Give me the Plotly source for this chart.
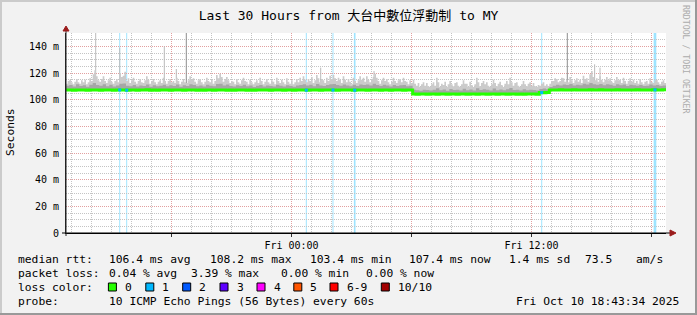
import plotly.graph_objects as go
import pandas as pd

# ---------------- data ----------------
START = "2025-10-09 12:43:34"
END = "2025-10-10 18:43:34"
BIN_MINUTES = 10        # median / dense-smoke resolution
FINE_MINUTES = 5        # max-ping resolution

median_ms = [
    107.2, 107.3, 107.1, 107.2, 107.3, 107.2, 107.0, 107.2, 107.3, 107.2,
    107.1, 107.3, 107.2, 107.2, 107.0, 107.2, 107.3, 107.2, 107.1, 107.2,
    107.3, 107.1, 107.2, 107.2, 107.4, 107.1, 107.2, 107.0, 107.2, 107.3,
    107.2, 107.1, 107.2, 107.3, 107.2, 107.1, 107.2, 107.3, 107.2, 107.1,
    107.2, 107.0, 107.2, 107.3, 107.1, 107.2, 107.3, 107.2, 107.1, 107.2,
    107.1, 107.2, 107.3, 107.2, 107.0, 107.2, 107.1, 107.2, 107.3, 107.2,
    107.2, 107.1, 107.2, 107.3, 107.2, 107.1, 107.2, 107.2, 107.0, 107.2,
    107.3, 107.2, 107.1, 107.2, 107.2, 107.3, 107.1, 107.2, 107.2, 107.3,
    107.2, 107.1, 107.2, 107.3, 107.2, 107.2, 107.1, 107.2, 107.3, 107.2,
    107.1, 107.2, 107.3, 107.2, 107.1, 107.2, 107.2, 107.0, 107.2, 107.3,
    107.2, 107.1, 107.2, 107.3, 104.2, 104.1, 104.2, 104.3, 104.1, 104.2,
    104.2, 104.0, 104.2, 104.3, 104.1, 104.2, 104.2, 104.1, 104.3, 104.2,
    104.1, 104.2, 104.2, 104.0, 104.2, 104.3, 104.1, 104.2, 104.2, 104.1,
    104.2, 104.3, 104.1, 104.2, 104.2, 104.0, 104.2, 104.1, 104.2, 104.3,
    104.2, 104.1, 105.3, 105.2, 105.4, 107.3, 107.2, 107.3, 107.4, 107.3,
    107.2, 107.3, 107.4, 107.3, 107.2, 107.3, 107.3, 107.4, 107.2, 107.3,
    107.4, 107.3, 107.2, 107.3, 107.3, 107.4, 107.2, 107.3, 107.3, 107.2,
    107.3, 107.4, 107.3, 107.2, 107.3, 107.3, 107.4, 107.3, 107.2, 107.4,
]

smoke_mid_ms = [
    110.5, 111, 109.8, 111.5, 110.2, 110.8, 109.6, 111.2, 112.5, 111,
    110.4, 111.6, 110, 111.2, 109.8, 110.6, 112, 112.2, 110.5, 110,
    111, 109.8, 110.6, 110.2, 111.4, 109.7, 110.8, 110, 110.5, 111.2,
    110, 110.8, 110.3, 111.3, 109.6, 110.9, 110.2, 111.5, 111, 110.1,
    110.7, 109.9, 111.2, 110.5, 110, 111.8, 112, 110.6, 111.3, 110.2,
    109.8, 110.9, 110.3, 111.1, 110, 110.6, 109.5, 110.4, 111, 109.9,
    110.6, 110.2, 109.8, 111.2, 110.5, 109.9, 110.8, 110.3, 109.6, 110.7,
    111, 111.5, 110.6, 111.2, 110.1, 111.8, 110.6, 110.2, 111, 111.6,
    111.8, 111, 110.4, 111.4, 110.7, 110, 111.1, 110.3, 111.3, 111,
    111.4, 110.6, 112, 111, 110.2, 111.2, 110.6, 109.9, 111, 110.3,
    110.8, 111, 110, 110.4, 107.5, 107, 106.6, 107.4, 107.2, 106.8,
    107.5, 108.6, 107, 107.6, 106.7, 108, 107.2, 107.5, 106.9, 108.2,
    107.1, 107.7, 106.8, 108.6, 107.2, 107.9, 107.4, 106.9, 108.3, 107.1,
    107.6, 107, 107.9, 108.7, 107.2, 107.5, 106.8, 107.9, 107, 107.4,
    107.2, 106.8, 108, 108.3, 107.9, 109.5, 110.5, 111.2, 110.6, 111.4,
    111, 111.8, 110.6, 111.2, 110.8, 112, 111.3, 112.5, 111.6, 111.2,
    111.8, 110.8, 111.6, 111.2, 110.5, 111.6, 110.9, 111.4, 110.3, 111.1,
    110.8, 110.4, 111, 110.2, 110.5, 111.3, 110.7, 111, 110.2, 110.6,
]

smoke_hi_ms = [
    112, 114, 115, 113, 111.5, 113.5, 115.5, 113, 112, 114.5, 113, 115, 111.5, 113, 116, 114, 119, 122, 117.5, 114.5,
    113.5, 115.5, 117.5, 114, 112.5, 114.5, 116.5, 113.5, 112, 114, 115.5, 113, 120, 117, 118, 121, 114, 116, 112.5, 114.5,
    116.5, 113.5, 112, 114, 115.5, 113, 112.5, 114.5, 117.5, 115, 112, 114, 115.5, 113, 111.5, 113.5, 114.5, 112.5, 116.5, 114,
    112, 114, 115.5, 113, 114, 112.5, 116.5, 114, 111.5, 113.5, 115.5, 113, 112.5, 114.5, 117.5, 115, 116, 113.5, 112, 114.5,
    115.5, 113, 111.5, 113.5, 116.5, 114, 113, 115, 112, 114, 118.5, 116, 119.5, 117, 113.5, 115.5, 117, 114.5, 112.5, 114,
    113.5, 111.5, 115.5, 113, 112, 114.5, 116.5, 114, 113.5, 111.5, 115, 113, 111.5, 113, 114.5, 112.5, 116.5, 114, 111.5, 113.5,
    115.5, 113, 112, 114.5, 113.5, 111.5, 116.5, 114, 112.5, 115, 113, 111.5, 116, 113.5, 112, 114.5, 111.5, 113, 115.5, 113,
    116.5, 114, 117.5, 115, 113, 115.5, 114, 117, 112.5, 114.5, 118.5, 116, 113, 115.5, 114.5, 112.5, 116.5, 114, 118, 115.5,
    118.5, 116, 114, 116.5, 115, 112.5, 117.5, 115, 113, 115.5, 113.5, 111.5, 116.5, 114, 112.5, 114.5, 117.5, 115, 116.5, 113.5,
    117.5, 115, 113, 115.5, 117, 119.5, 116.5, 114, 112, 114.5, 116.5, 114, 115.5, 113, 111.5, 113.5, 116.5, 114, 112.5, 114.5,
    115.5, 113, 116.5, 114, 113.5, 111.5, 114.5, 112.5, 115, 112, 110.5, 112.5, 109.5, 111.5, 113, 110.5, 112.5, 110, 109.5, 111.5,
    113, 110.5, 116.5, 113, 109.5, 112, 111, 113.5, 109.5, 111.5, 114, 111.5, 110, 112.5, 113, 110.5, 109.5, 111.5, 114.5, 112,
    112, 109.5, 113.5, 111, 109.5, 111.5, 116.5, 113, 110, 112.5, 114, 111.5, 113, 110.5, 109.5, 111.5, 115, 112.5, 110, 112,
    113.5, 111, 109.5, 112, 114, 111.5, 116.5, 113, 110.5, 112.5, 113, 110.5, 109.5, 111.5, 114, 111.5, 110, 112, 113, 110.5,
    112.5, 110, 109.5, 111, 110.5, 112, 113, 110.5, 111.5, 110, 112, 114, 114, 116, 115.5, 113, 114, 116.5, 116, 113.5,
    115, 113, 117, 114.5, 112.5, 114.5, 116, 113.5, 115, 112.5, 118, 115.5, 116, 113.5, 119, 121.5, 117, 114.5, 116, 113.5,
    117.5, 115, 113, 115, 117, 114.5, 116, 113.5, 112.5, 114.5, 117, 114.5, 115, 112.5, 116.5, 114, 112, 114, 116, 113.5,
    115, 112.5, 114, 112, 115.5, 113, 111.5, 113.5, 114, 112, 116, 113.5, 112.5, 114.5, 115, 113, 111.5, 113.5, 114.5, 112.5,
]

spike_light_time = ["2025-10-09 14:12:40", "2025-10-09 15:24:40", "2025-10-09 17:38:28",
                    "2025-10-09 18:14:28", "2025-10-10 01:27:40", "2025-10-10 04:07:34",
                    "2025-10-10 15:09:30", "2025-10-10 15:25:34"]
spike_light_ms = [150, 139, 140, 123, 124, 121.5, 126.5, 124]
spike_dark_time = ["2025-10-09 18:44:28", "2025-10-10 13:47:28"]
spike_dark_ms = [150, 150]

loss_start = ["2025-10-09 15:23:10", "2025-10-09 15:44:10", "2025-10-10 00:43:00",
              "2025-10-10 02:03:00", "2025-10-10 03:07:10", "2025-10-10 12:29:10",
              "2025-10-10 18:06:30"]
loss_minutes = [3, 3, 3, 3, 5, 3, 8]

y_tick_vals = [0, 20, 40, 60, 80, 100, 120, 140]
y_tick_text = ["0", "20 m", "40 m", "60 m", "80 m", "100 m", "120 m", "140 m"]
x_tick_times = ["2025-10-09 18:00", "2025-10-10 00:00", "2025-10-10 06:00",
                "2025-10-10 12:00", "2025-10-10 18:00"]
x_tick_text = ["", "Fri 00:00", "", "Fri 12:00", ""]

rtt_items = ["median rtt:", "106.4 ms avg", "108.2 ms max", "103.4 ms min",
             "107.4 ms now", "1.4 ms sd", "73.5", "am/s"]
loss_items = ["packet loss:", "0.04 % avg", "3.39 % max", "0.00 % min", "0.00 % now"]
loss_color_labels = ["0", "1", "2", "3", "4", "5", "6-9", "10/10"]
loss_colors = ["#26ff00", "#00b8ff", "#0059ff", "#5e00ff", "#ff00ff", "#ff5500", "#ff0000", "#a10000"]
probe_text = "10 ICMP Echo Pings (56 Bytes) every 60s"
stamp_text = "Fri Oct 10 18:43:34 2025"
title_text = "Last 30 Hours from 大台中數位浮動制 to MY"

# ---------------- layout geometry (pixels) ----------------
W, H = 697, 315
PL, PR, PT, PB = 66, 666, 33, 233
MONO = "DejaVu Sans Mono, Noto Sans CJK TC, monospace"
LEG = 11.3


def px(x):
    return (x - PL) / (PR - PL)


def py(y):
    return (PB - y) / (PB - PT)


start_ts = pd.Timestamp(START)
step = pd.Timedelta(minutes=BIN_MINUTES)
edges = pd.date_range(START, periods=len(median_ms) + 1, freq=f"{BIN_MINUTES}min")
fine_edges = pd.date_range(START, periods=len(smoke_hi_ms) + 1, freq=f"{FINE_MINUTES}min")


def stepped(v):
    return list(v) + [v[-1]]


def median_at(t):
    i = int((pd.Timestamp(t) - start_ts) / step)
    return median_ms[max(0, min(i, len(median_ms) - 1))]


fig = go.Figure()

# loss background bars
for s, m in zip(loss_start, loss_minutes):
    t0 = pd.Timestamp(s)
    fig.add_vrect(x0=t0, x1=t0 + pd.Timedelta(minutes=m), fillcolor="rgba(0,184,255,0.38)",
                  line_width=0, layer="below")


def spike_trace(times, tops, color):
    xs, ys = [], []
    for t, v in zip(times, tops):
        xs += [pd.Timestamp(t), pd.Timestamp(t), None]
        ys += [median_at(t), v, None]
    return go.Scatter(x=xs, y=ys, mode="lines", line=dict(color=color, width=1),
                      hoverinfo="skip", showlegend=False)


fig.add_trace(spike_trace(spike_light_time, spike_light_ms, "#bababa"))
fig.add_trace(spike_trace(spike_dark_time, spike_dark_ms, "#8e8e8e"))

# smoke: max pings (fine) and dense core
fig.add_trace(go.Scatter(x=fine_edges, y=[median_at(t) for t in fine_edges], mode="lines",
                         line=dict(width=0, shape="hv"), hoverinfo="skip", showlegend=False))
fig.add_trace(go.Scatter(x=fine_edges, y=stepped(smoke_hi_ms), mode="lines", fill="tonexty",
                         fillcolor="#cbcbcb", line=dict(width=0, shape="hv"),
                         hoverinfo="skip", showlegend=False))
fig.add_trace(go.Scatter(x=edges, y=stepped(median_ms), mode="lines",
                         line=dict(width=0, shape="hv"), hoverinfo="skip", showlegend=False))
fig.add_trace(go.Scatter(x=edges, y=stepped(smoke_mid_ms), mode="lines", fill="tonexty",
                         fillcolor="#a6a6a6", line=dict(width=0, shape="hv"),
                         hoverinfo="skip", showlegend=False))

# median line
fig.add_trace(go.Scatter(x=edges, y=stepped(median_ms), mode="lines",
                         line=dict(color="#26ff00", width=3, shape="hv"),
                         hoverinfo="skip", showlegend=False))

# loss-coloured median points
lc_x = [pd.Timestamp(s) + pd.Timedelta(minutes=m) / 2 for s, m in zip(loss_start, loss_minutes)]
fig.add_trace(go.Scatter(x=lc_x, y=[median_at(t) for t in lc_x], mode="markers",
                         marker=dict(symbol="square", size=3, color="#00b8ff", line=dict(width=0)),
                         hoverinfo="skip", showlegend=False))

GRID_MINOR = "#c4c4c4"
GRID_MAJOR = "#e2a0a0"

fig.update_layout(
    width=W, height=H, autosize=False,
    margin=dict(l=PL, r=W - PR, t=PT, b=H - PB, pad=0),
    paper_bgcolor="#f2f2f2", plot_bgcolor="#ffffff",
    font=dict(family=MONO, size=10, color="#000"),
    title=dict(text=title_text, x=0.5, xanchor="center", xref="container",
               y=1 - 15 / H, yref="container", yanchor="middle",
               font=dict(family=MONO, size=13, color="#000")),
    xaxis=dict(type="date", range=[START, END], tickmode="array",
               tickvals=x_tick_times, ticktext=x_tick_text,
               showgrid=True, gridcolor=GRID_MAJOR, griddash="1px,1px", gridwidth=1,
               ticks="outside", ticklen=3, tickcolor="#333", tickfont=dict(size=10),
               showline=True, linecolor="#000", linewidth=1, zeroline=False,
               minor=dict(dtick=3600000, tick0="2025-10-09 00:00", showgrid=True,
                          gridcolor=GRID_MINOR, griddash="1px,1px", gridwidth=1, ticks=""),
               fixedrange=True),
    yaxis=dict(range=[0, 150], tickmode="array", tickvals=y_tick_vals, ticktext=y_tick_text,
               showgrid=True, gridcolor=GRID_MAJOR, griddash="1px,1px", gridwidth=1,
               ticks="", tickfont=dict(size=10), ticklabelstandoff=4,
               showline=True, linecolor="#222", linewidth=1, zeroline=False,
               minor=dict(dtick=5, tick0=0, showgrid=True, gridcolor=GRID_MINOR,
                          griddash="1px,1px", gridwidth=1, ticks=""),
               fixedrange=True),
    showlegend=False,
)

shapes = []
# frame: light top/left, dark bottom/right
shapes.append(dict(type="rect", xref="paper", yref="paper", x0=px(0), x1=px(W), y0=py(0), y1=py(2),
                   fillcolor="#cbcbcb", line_width=0, layer="above"))
shapes.append(dict(type="rect", xref="paper", yref="paper", x0=px(0), x1=px(2), y0=py(0), y1=py(H),
                   fillcolor="#cbcbcb", line_width=0, layer="above"))
shapes.append(dict(type="rect", xref="paper", yref="paper", x0=px(0), x1=px(W), y0=py(H - 2), y1=py(H),
                   fillcolor="#999999", line_width=0, layer="above"))
shapes.append(dict(type="rect", xref="paper", yref="paper", x0=px(W - 2), x1=px(W), y0=py(0), y1=py(H),
                   fillcolor="#999999", line_width=0, layer="above"))
# axis extensions and arrows
shapes.append(dict(type="line", xref="paper", yref="paper", x0=px(62), x1=px(671), y0=py(PB), y1=py(PB),
                   line=dict(color="#000", width=1), layer="above"))
shapes.append(dict(type="line", xref="paper", yref="paper", x0=px(PL), x1=px(PL), y0=py(PB + 3), y1=py(30),
                   line=dict(color="#222", width=1), layer="above"))
shapes.append(dict(type="path", xref="paper", yref="paper",
                   path=f"M {px(670)},{py(PB - 3)} L {px(676)},{py(PB)} L {px(670)},{py(PB + 3)} Z",
                   fillcolor="#9b1c1c", line=dict(color="#9b1c1c", width=1), layer="above"))
shapes.append(dict(type="path", xref="paper", yref="paper",
                   path=f"M {px(PL - 3)},{py(31)} L {px(PL)},{py(26)} L {px(PL + 3)},{py(31)} Z",
                   fillcolor="#9b1c1c", line=dict(color="#9b1c1c", width=1), layer="above"))

annotations = []


def text(x, y, s, size=LEG, anchor="left", color="#000", angle=0):
    annotations.append(dict(x=px(x), y=py(y), xref="paper", yref="paper", text=s,
                            showarrow=False, xanchor=anchor, yanchor="middle", textangle=angle,
                            font=dict(family=MONO, size=size, color=color)))


row_y = [259, 273, 287, 301]
for s, x in zip(rtt_items, [16, 107.3, 208, 308, 407.3, 507.3, 582.7, 634]):
    text(x, row_y[0], s)
for s, x in zip(loss_items, [16, 107.3, 189, 279, 364.4]):
    text(x, row_y[1], s)
text(16, row_y[2], "loss color:")
for lab, col, x in zip(loss_color_labels, loss_colors, [108.4, 145.8, 182.7, 220, 257, 293.8, 330, 381.3]):
    shapes.append(dict(type="rect", xref="paper", yref="paper", x0=px(x), x1=px(x + 8),
                       y0=py(row_y[2] - 4), y1=py(row_y[2] + 4), fillcolor=col,
                       line=dict(color="#000", width=1), layer="above"))
    text(x + 14.6, row_y[2], lab)
text(16, row_y[3], "probe:")
text(107.3, row_y[3], probe_text)
text(681, row_y[3], stamp_text, anchor="right")
text(10.5, 132.5, "Seconds", angle=-90, anchor="center")
text(686, 59, "RRDTOOL / TOBI OETIKER", size=8.2, color="#acacac", angle=90, anchor="center")

fig.update_layout(shapes=list(fig.layout.shapes) + shapes, annotations=annotations)

fig.write_html("out.html")
